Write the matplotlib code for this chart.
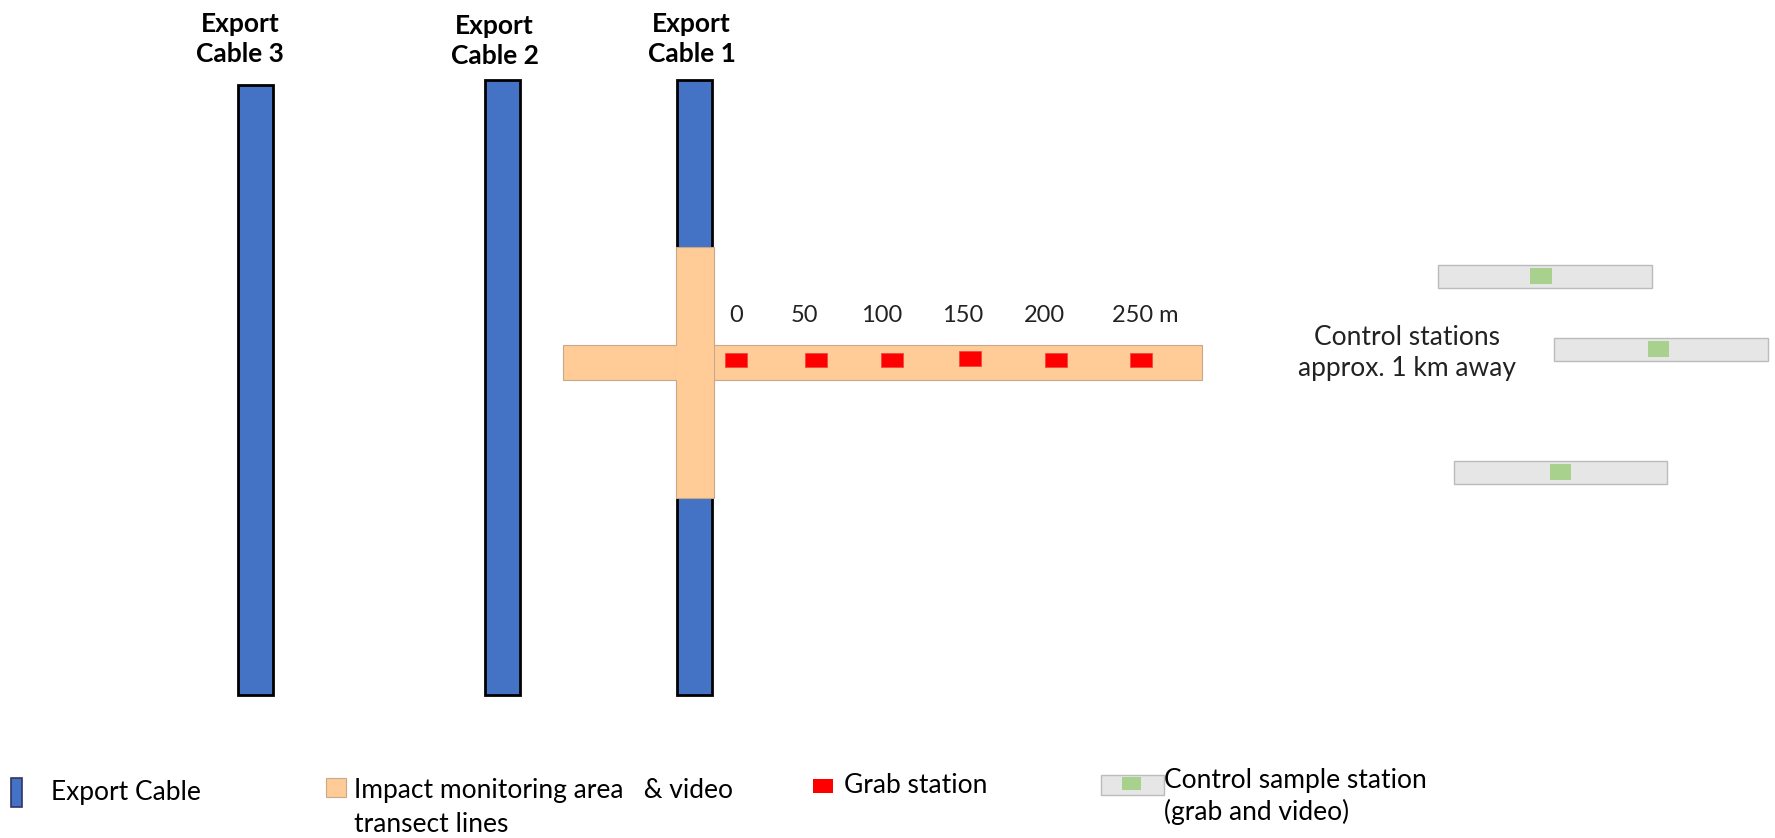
import matplotlib.pyplot as plt
from matplotlib.patches import Rectangle

plt.rcParams['font.family'] = ['Lato', 'DejaVu Sans']

# diagram elements (canvas units: 1568 x 740, y down)
cable_names = ['Export\nCable 3', 'Export\nCable 2', 'Export\nCable 1']
cable_x = [210, 428, 598]
cable_top = [75, 71, 71]
cable_label_x = [212, 437, 611]
cable_label_y = [34, 36, 34]
cable_bottom = 614
cable_w = 31

distance_labels = ['0', '50', '100', '150', '200', '250 m']
label_x = [650, 711, 779, 850, 923, 1012]
grab_x = [650, 721, 788, 857, 933, 1008]
grab_y = [318, 318, 318, 316.5, 318, 318]

control_left = [1270, 1373, 1284]
control_y = [244, 308.5, 417]
control_green_x = [1361.5, 1465, 1378.5]

legend_labels = ['Export Cable', 'Impact monitoring area   & video\ntransect lines',
                 'Grab station', 'Control sample station\n(grab and video)']

BLUE = '#4472C4'
ORANGE = '#FFCB97'
RED = '#FF0000'
GREY = '#E6E6E6'
GREEN = '#A9D18E'

fig = plt.figure(figsize=(17.75, 8.38), dpi=100)
ax = fig.add_axes([0, 0, 1, 1])
ax.set_xlim(0, 1568)
ax.set_ylim(740, 0)
ax.axis('off')

# export cables
for name, x, top, lx, ly in zip(cable_names, cable_x, cable_top, cable_label_x, cable_label_y):
    ax.add_patch(Rectangle((x, top), cable_w, cable_bottom - top, facecolor=BLUE,
                           edgecolor='black', lw=2, zorder=2))
    ax.text(lx, ly, name, ha='center', va='center', fontsize=19,
            fontweight='bold', linespacing=1.3)

# impact monitoring area (cross)
ax.add_patch(Rectangle((497, 305), 565, 31, facecolor=ORANGE, edgecolor='#C8A888',
                       lw=0.8, zorder=3))
ax.add_patch(Rectangle((597, 218), 34, 222, facecolor=ORANGE, edgecolor='#C8A888',
                       lw=0.8, zorder=3))
ax.add_patch(Rectangle((597.6, 305.6), 32.8, 29.8, facecolor=ORANGE, edgecolor='none',
                       zorder=4))

# grab stations
for x, y in zip(grab_x, grab_y):
    ax.add_patch(Rectangle((x - 9.5, y - 6.5), 19, 13, facecolor=RED,
                           edgecolor='#F04040', lw=0.5, zorder=5))
for lab, x in zip(distance_labels, label_x):
    ax.text(x, 279, lab, ha='center', va='center', fontsize=17, color='#222222')

# control stations
for x, y, gx in zip(control_left, control_y, control_green_x):
    ax.add_patch(Rectangle((x, y - 10), 189, 20, facecolor=GREY, edgecolor='#BBBBBB',
                           lw=1, zorder=2))
    ax.add_patch(Rectangle((gx - 9.5, y - 7), 19, 14, facecolor=GREEN,
                           edgecolor='none', zorder=3))
ax.text(1243, 312, 'Control stations\napprox. 1 km away', ha='center', va='center',
        fontsize=19, linespacing=1.3, color='#222222')

# legend
ax.add_patch(Rectangle((10, 687), 9, 26, facecolor=BLUE, edgecolor='#333366', lw=1.2))
ax.text(45, 700, legend_labels[0], ha='left', va='center', fontsize=19)
ax.add_patch(Rectangle((288, 687), 18, 17, facecolor=ORANGE, edgecolor='#C8A888', lw=0.8))
ax.text(313, 713, legend_labels[1], ha='left', va='center', fontsize=19, linespacing=1.45)
ax.add_patch(Rectangle((718, 688), 18, 12, facecolor=RED, edgecolor='none'))
ax.text(746, 694, legend_labels[2], ha='left', va='center', fontsize=19)
ax.add_patch(Rectangle((973, 684), 55, 18, facecolor=GREY, edgecolor='#BBBBBB', lw=1))
ax.add_patch(Rectangle((991, 686), 17, 12, facecolor=GREEN, edgecolor='none'))
ax.text(1028, 703.5, legend_labels[3], ha='left', va='center', fontsize=19, linespacing=1.25)

fig.savefig('out.png', dpi=100)
